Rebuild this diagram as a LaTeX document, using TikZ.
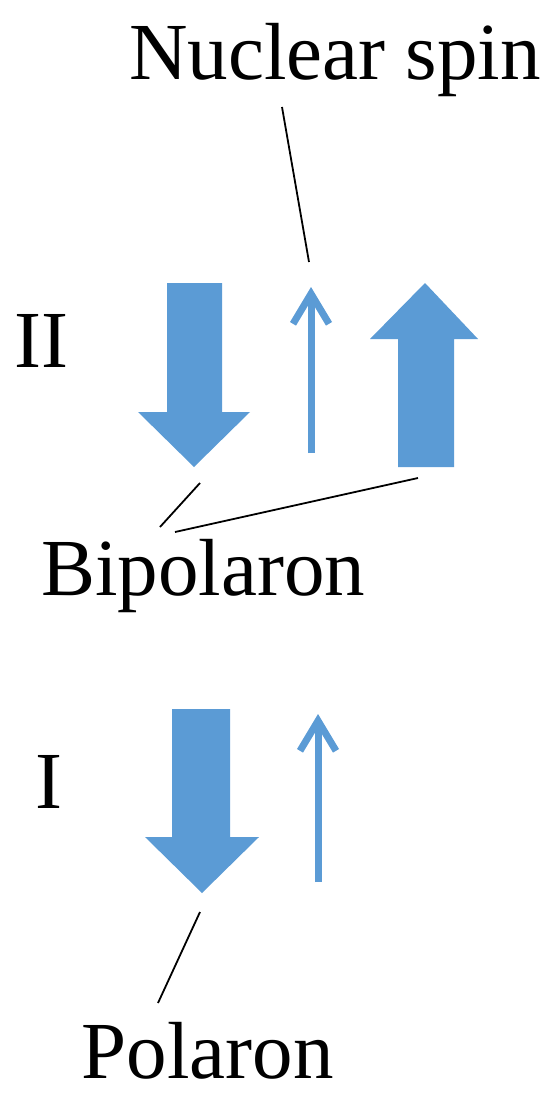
\documentclass[tikz,border=0pt]{standalone}
\usepackage{fontspec}
\setmainfont{Liberation Serif}
\usepackage{xcolor}
\usetikzlibrary{arrows.meta}
\definecolor{spinblue}{RGB}{91,155,213}

\begin{document}
\begin{tikzpicture}[x=1pt,y=-1pt,
  lab/.style={font=\fontsize{81}{90}\selectfont,inner sep=0pt,anchor=base},
  big/.style={fill=spinblue},
  nuc/.style={spinblue,line width=7pt,-{Straight Barb[length=30pt,width=36pt]}},
  pin/.style={black,line width=1.8pt}]
\useasboundingbox (0,0) rectangle (550,1094);
% labels
\node[lab] (nuclab) at (335,80) {Nuclear spin};
\node[lab] (two) at (41.5,367) {II};
\node[lab] (bip) at (203,595) {Bipolaron};
\node[lab] (one) at (48.5,808) {I};
\node[lab] (pol) at (207.5,1078) {Polaron};
% (II) bipolaron: down and up spins, nuclear spin between
\fill[big] (167,283) -- (222,283) -- (222,412) -- (250,412) -- (194,467)
  -- (138,412) -- (167,412) -- cycle;
\coordinate (downII) at (194,467);
\fill[big] (398,467) -- (454,467) -- (454,339) -- (478,339) -- (425,283)
  -- (370,339) -- (398,339) -- cycle;
\coordinate (upII) at (425,467);
\coordinate (nucIIa) at (311,453);
\coordinate (nucIIb) at (311,287);
\draw[nuc] (nucIIa) -- (nucIIb);
% (I) polaron: one down spin and a nuclear spin
\fill[big] (172,709) -- (230,709) -- (230,837) -- (259,837) -- (202,893)
  -- (145,837) -- (172,837) -- cycle;
\coordinate (downI) at (202,893);
\coordinate (nucIa) at (318,882);
\coordinate (nucIb) at (318,714);
\draw[nuc] (nucIa) -- (nucIb);
% pointer lines
\coordinate (p1) at (282,107);
\coordinate (p2) at (309,262);
\draw[pin] (p1) -- (p2);
\coordinate (p3) at (200,483);
\coordinate (p4) at (160,527);
\draw[pin] (p3) -- (p4);
\coordinate (p5) at (418,478);
\coordinate (p6) at (175,532);
\draw[pin] (p5) -- (p6);
\coordinate (p7) at (200,912);
\coordinate (p8) at (158,1003);
\draw[pin] (p7) -- (p8);
\end{tikzpicture}
\end{document}
